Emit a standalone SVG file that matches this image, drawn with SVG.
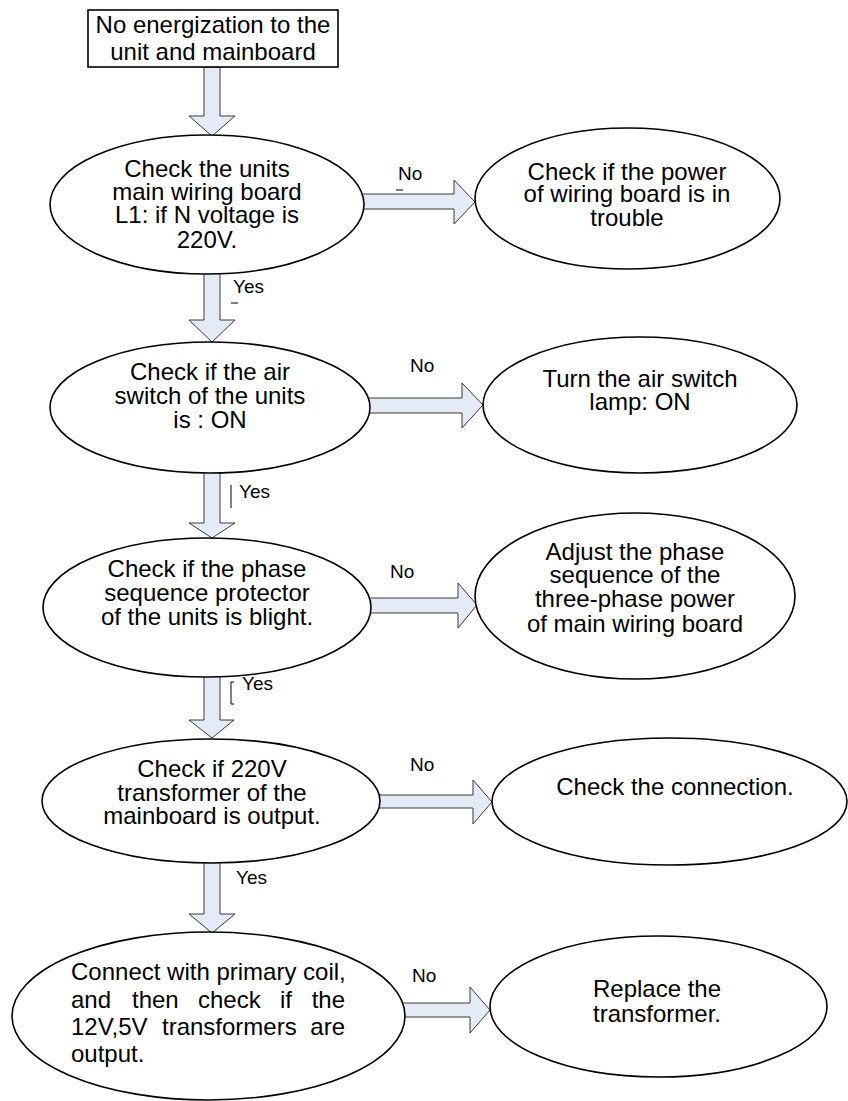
<svg xmlns="http://www.w3.org/2000/svg" width="848" height="1101" viewBox="0 0 848 1101">
<style>
.node{fill:#fff;stroke:#000;stroke-width:1.6}
.arr{fill:#e4ebf6;stroke:#3a3a3a;stroke-width:1}
.t{font-family:"Liberation Sans",Arial,sans-serif;font-size:24px;fill:#000;text-anchor:middle}
.tl{font-family:"Liberation Sans",Arial,sans-serif;font-size:24px;fill:#000}
.lbl{font-family:"Liberation Sans",Arial,sans-serif;font-size:19px;fill:#000}
.mk{fill:none;stroke:#000;stroke-width:1}
</style>
<rect width="848" height="1101" fill="#fff"/>
<g id="connectors">
<polygon class="arr" points="204,67 220,67 220,116 235,116 212,136 189,116 204,116"/>
<polygon class="arr" points="204,270 220,270 220,320 235,320 212,342 189,320 204,320"/>
<polygon class="arr" points="204,470 220,470 220,523 235,523 212,538 189,523 204,523"/>
<polygon class="arr" points="204,674 220,674 220,720 234,720 212,738 189,720 204,720"/>
<polygon class="arr" points="204,860 220,860 220,914 235,914 212,933 189,914 204,914"/>
<polygon class="arr" points="360,194 454,194 454,180 475,202 454,224 454,209 360,209"/>
<polygon class="arr" points="366,398 462,398 462,383 483,405 462,428 462,413 366,413"/>
<polygon class="arr" points="367,598 458,598 458,583 477,605 458,628 458,613 367,613"/>
<polygon class="arr" points="377,795 473,795 473,780 492,802 473,824 473,808 377,808"/>
<polygon class="arr" points="400,1003 470,1003 470,987 490,1010 470,1033 470,1017 400,1017"/>
<text class="lbl" x="398" y="180">No</text>
<line class="mk" x1="396" y1="190" x2="403" y2="190"/>
<text class="lbl" x="233" y="293">Yes</text>
<line class="mk" x1="231" y1="303" x2="238" y2="303"/>
<text class="lbl" x="410" y="372">No</text>
<line class="mk" x1="231" y1="485" x2="231" y2="508"/>
<text class="lbl" x="239" y="498">Yes</text>
<text class="lbl" x="390" y="578">No</text>
<path class="mk" d="M234,682 H231 V704 H234"/>
<text class="lbl" x="242" y="690">Yes</text>
<text class="lbl" x="410" y="771">No</text>
<text class="lbl" x="236" y="884">Yes</text>
<text class="lbl" x="412" y="982">No</text>
</g>
<g id="start">
<rect class="node" x="88" y="10" width="250" height="57"/>
<text class="t" x="213" y="33">No energization to the</text>
<text class="t" x="213" y="60">unit and mainboard</text>
</g>
<g id="check-voltage">
<ellipse class="node" cx="207" cy="204.5" rx="157" ry="69.5"/>
<text class="t" x="207" y="177">Check the units</text>
<text class="t" x="207" y="200">main wiring board</text>
<text class="t" x="207" y="223">L1: if N voltage is</text>
<text class="t" x="207" y="248">220V.</text>
</g>
<g id="check-power">
<ellipse class="node" cx="627.5" cy="198.5" rx="152.5" ry="70.5"/>
<text class="t" x="627" y="180">Check if the power</text>
<text class="t" x="627" y="202">of wiring board is in</text>
<text class="t" x="627" y="226">trouble</text>
</g>
<g id="check-air-switch">
<ellipse class="node" cx="210" cy="407.5" rx="160" ry="65.5"/>
<text class="t" x="210" y="380">Check if the air</text>
<text class="t" x="210" y="404">switch of the units</text>
<text class="t" x="210" y="428">is : ON</text>
</g>
<g id="turn-air-switch">
<ellipse class="node" cx="640" cy="405" rx="157" ry="68"/>
<text class="t" x="640" y="387">Turn the air switch</text>
<text class="t" x="640" y="410">lamp: ON</text>
</g>
<g id="check-phase">
<ellipse class="node" cx="207" cy="607.5" rx="164" ry="69.5"/>
<text class="t" x="207" y="577">Check if the phase</text>
<text class="t" x="207" y="601">sequence protector</text>
<text class="t" x="207" y="625">of the units is blight.</text>
</g>
<g id="adjust-phase">
<ellipse class="node" cx="635" cy="596" rx="160" ry="83"/>
<text class="t" x="635" y="560">Adjust the phase</text>
<text class="t" x="635" y="583">sequence of the</text>
<text class="t" x="635" y="607">three-phase power</text>
<text class="t" x="635" y="632">of main wiring board</text>
</g>
<g id="check-transformer">
<ellipse class="node" cx="211" cy="801" rx="169" ry="62"/>
<text class="t" x="212" y="777">Check if 220V</text>
<text class="t" x="212" y="801">transformer of the</text>
<text class="t" x="212" y="824">mainboard is output.</text>
</g>
<g id="check-connection">
<ellipse class="node" cx="669.5" cy="801.5" rx="177.5" ry="63.5"/>
<text class="t" x="675" y="795">Check the connection.</text>
</g>
<g id="check-coil">
<ellipse class="node" cx="208.5" cy="1016" rx="196.5" ry="84"/>
<text class="tl" x="71" y="980">Connect with primary coil,</text>
<text class="tl" y="1008"><tspan x="71">and</tspan><tspan x="132">then</tspan><tspan x="198">check</tspan><tspan x="280">if</tspan><tspan x="345" text-anchor="end">the</tspan></text>
<text class="tl" y="1035"><tspan x="71">12V,5V</tspan><tspan x="162">transformers</tspan><tspan x="345" text-anchor="end">are</tspan></text>
<text class="tl" x="71" y="1062">output.</text>
</g>
<g id="replace-transformer">
<ellipse class="node" cx="658.5" cy="1006.5" rx="168.5" ry="70.5"/>
<text class="t" x="657" y="997">Replace the</text>
<text class="t" x="657" y="1022">transformer.</text>
</g>
</svg>
